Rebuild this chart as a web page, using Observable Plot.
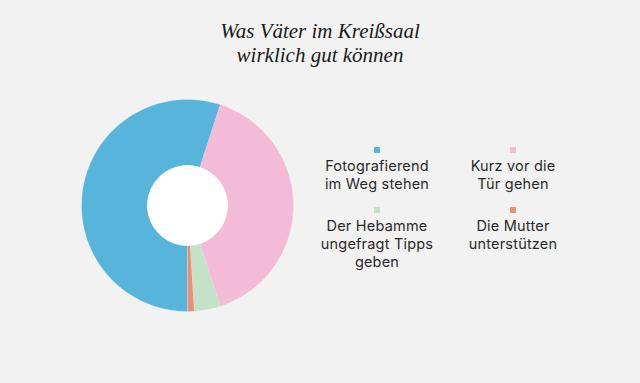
<!DOCTYPE html>
<html><head><meta charset="utf-8">
<script src="https://cdn.jsdelivr.net/npm/d3@7"></script>
<script src="https://cdn.jsdelivr.net/npm/@observablehq/plot@0.6"></script>
<style>
body{margin:0;background:#f2f2f2;}
#wrap{position:relative;width:640px;height:383px;overflow:hidden;background:#f2f2f2;}
#chart{position:absolute;left:0;top:0;}
#title{position:absolute;left:0;top:19px;width:640px;text-align:center;font-family:"Liberation Serif",serif;font-style:italic;font-size:21px;line-height:24px;color:#1a1a1a;}
.leg{position:absolute;width:170px;text-align:center;font-family:"Inter",sans-serif;font-size:14.5px;letter-spacing:0.2px;line-height:18px;color:#2a2a2a;white-space:pre-line;}
.sw{width:6px;height:6px;margin:0 auto 4px;}
</style></head>
<body><div id="wrap"><div id="chart"></div><div id="title">Was Väter im Kreißsaal<br>wirklich gut können</div></div>
<script>
const categories = ["Fotografierend im Weg stehen", "Kurz vor die Tür gehen", "Der Hebamme ungefragt Tipps geben", "Die Mutter unterstützen"];
const legendLabels = ["Fotografierend\nim Weg stehen", "Kurz vor die\nTür gehen", "Der Hebamme\nungefragt Tipps\ngeben", "Die Mutter\nunterstützen"];
const shares = [55, 40, 4, 1];
const colors = ["#57b5dc", "#f4bbd6", "#c3e2c8", "#ea8f78"];

const innerR = 0.377;
const arcs = d3.pie().sort(null).startAngle(Math.PI).endAngle(3 * Math.PI)(shares);
const pts = [];
arcs.forEach((a, i) => {
  const n = Math.max(2, Math.ceil((a.endAngle - a.startAngle) / 0.01));
  const ring = [];
  for (let k = 0; k <= n; k++) {
    const t = a.startAngle + (a.endAngle - a.startAngle) * k / n;
    ring.push({cat: categories[i], x: Math.sin(t), y: Math.cos(t)});
  }
  for (let k = n; k >= 0; k--) {
    const t = a.startAngle + (a.endAngle - a.startAngle) * k / n;
    ring.push({cat: categories[i], x: innerR * Math.sin(t), y: innerR * Math.cos(t)});
  }
  pts.push(...ring);
});
const hole = d3.range(0, 361, 2).map(d => ({x: innerR * Math.sin(d * Math.PI / 180), y: innerR * Math.cos(d * Math.PI / 180)}));

const plot = Plot.plot({
  width: 640, height: 383, margin: 0,
  style: {background: "transparent"},
  x: {domain: [-1, 1], range: [81, 293], axis: null},
  y: {domain: [-1, 1], range: [311, 99], axis: null},
  color: {domain: categories, range: colors},
  marks: [
    Plot.line(pts, {x: "x", y: "y", z: "cat", fill: "cat", stroke: "#fff", strokeWidth: 0.4, strokeOpacity: 0.6}),
    Plot.line(hole, {x: "x", y: "y", fill: "#fff", stroke: "#fff", strokeWidth: 0.5})
  ]
});
document.getElementById("chart").appendChild(plot);

const legPos = [[377, 147], [513, 147], [377, 207], [513, 207]];
const wrap = document.getElementById("wrap");
categories.forEach((c, i) => {
  const d = document.createElement("div");
  d.className = "leg";
  d.style.left = (legPos[i][0] - 85) + "px";
  d.style.top = legPos[i][1] + "px";
  const sw = document.createElement("div");
  sw.className = "sw";
  sw.style.background = colors[i];
  d.appendChild(sw);
  d.appendChild(document.createTextNode(legendLabels[i]));
  wrap.appendChild(d);
});
</script>
</body></html>
